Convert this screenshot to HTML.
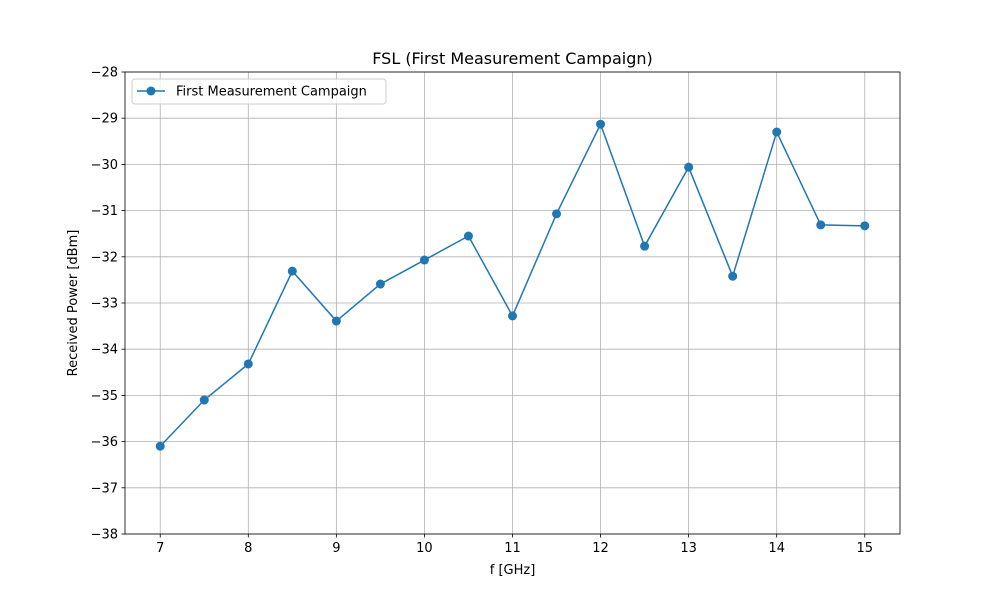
<!DOCTYPE html>
<html><head><meta charset="utf-8"><style>
body{margin:0;background:#fff;}
svg text{font-family:"DejaVu Sans","Liberation Sans",sans-serif;fill:#000;}
</style></head><body>
<svg id="chart" width="1000" height="600" xmlns="http://www.w3.org/2000/svg"></svg>
<script>
const freqs=[7,7.5,8,8.5,9,9.5,10,10.5,11,11.5,12,12.5,13,13.5,14,14.5,15];
const power=[-36.10,-35.10,-34.32,-32.31,-33.39,-32.59,-32.07,-31.55,-33.28,-31.07,-29.13,-31.77,-30.06,-32.42,-29.30,-31.31,-31.33];
const xTicks=[7,8,9,10,11,12,13,14,15];
const yTicks=[-38,-37,-36,-35,-34,-33,-32,-31,-30,-29,-28];
const L=125,R=900,T=72,B=534,xMin=6.6,xMax=15.4,yMin=-38,yMax=-28;
const sx=v=>L+(v-xMin)/(xMax-xMin)*(R-L);
const sy=v=>B-(v-yMin)/(yMax-yMin)*(B-T);
const svg=document.getElementById('chart');
const NS='http://www.w3.org/2000/svg';
function mk(tag,attrs,parent){const e=document.createElementNS(NS,tag);for(const k in attrs)e.setAttribute(k,attrs[k]);(parent||svg).appendChild(e);return e;}
const grid=mk('g',{});


xTicks.forEach(t=>{
  const x=sx(t);
  const g=mk('line',{x1:x,x2:x,y1:T,y2:B,stroke:'#b0b0b0','stroke-width':0.8},grid);
  
  
  mk('line',{x1:x,x2:x,y1:B,y2:B+3.5,stroke:'#000','stroke-width':0.8});
  const tx=mk('text',{x:x,y:B+18,'text-anchor':'middle','font-size':13});
  tx.textContent=t;
  
  
});
yTicks.forEach(t=>{
  const y=sy(t);
  const g=mk('line',{x1:L,x2:R,y1:y,y2:y,stroke:'#b0b0b0','stroke-width':0.8},grid);
  
  
  mk('line',{x1:L-3.5,x2:L,y1:y,y2:y,stroke:'#000','stroke-width':0.8});
  const tx=mk('text',{x:L-7,y:y+4.5,'text-anchor':'end','font-size':13});
  tx.textContent='\u2212'+Math.abs(t);
  
  
});
const line=mk('polyline',{points:freqs.map((f,i)=>sx(f)+','+sy(power[i])).join(' '),fill:'none',stroke:'#1f77b4','stroke-width':1.5});


freqs.forEach((f,i)=>{
  const c=mk('circle',{cx:sx(f),cy:sy(power[i]),r:4.5,fill:'#1f77b4'});
  
  
});
const frame=mk('rect',{x:L,y:T,width:R-L,height:B-T,fill:'none',stroke:'#000','stroke-width':0.8});


const title=mk('text',{x:(L+R)/2,y:64,'text-anchor':'middle','font-size':16});
title.textContent='FSL (First Measurement Campaign)';


const xl=mk('text',{x:(L+R)/2,y:574,'text-anchor':'middle','font-size':13});
xl.textContent='f [GHz]';


const yl=mk('text',{x:77,y:(T+B)/2,'text-anchor':'middle','font-size':13,transform:'rotate(-90 77 '+(T+B)/2+')'});
yl.textContent='Received Power [dBm]';


const leg=mk('g',{});


mk('rect',{x:132,y:79,width:254,height:25,rx:3,fill:'#fff','fill-opacity':0.8,stroke:'#ccc','stroke-width':1},leg);
mk('line',{x1:137,x2:165,y1:91,y2:91,stroke:'#1f77b4','stroke-width':1.5},leg);
mk('circle',{cx:151,cy:91,r:4.5,fill:'#1f77b4'},leg);
const lt=mk('text',{x:176,y:95.5,'font-size':13},leg);
lt.textContent='First Measurement Campaign';


</script>
</body></html>
